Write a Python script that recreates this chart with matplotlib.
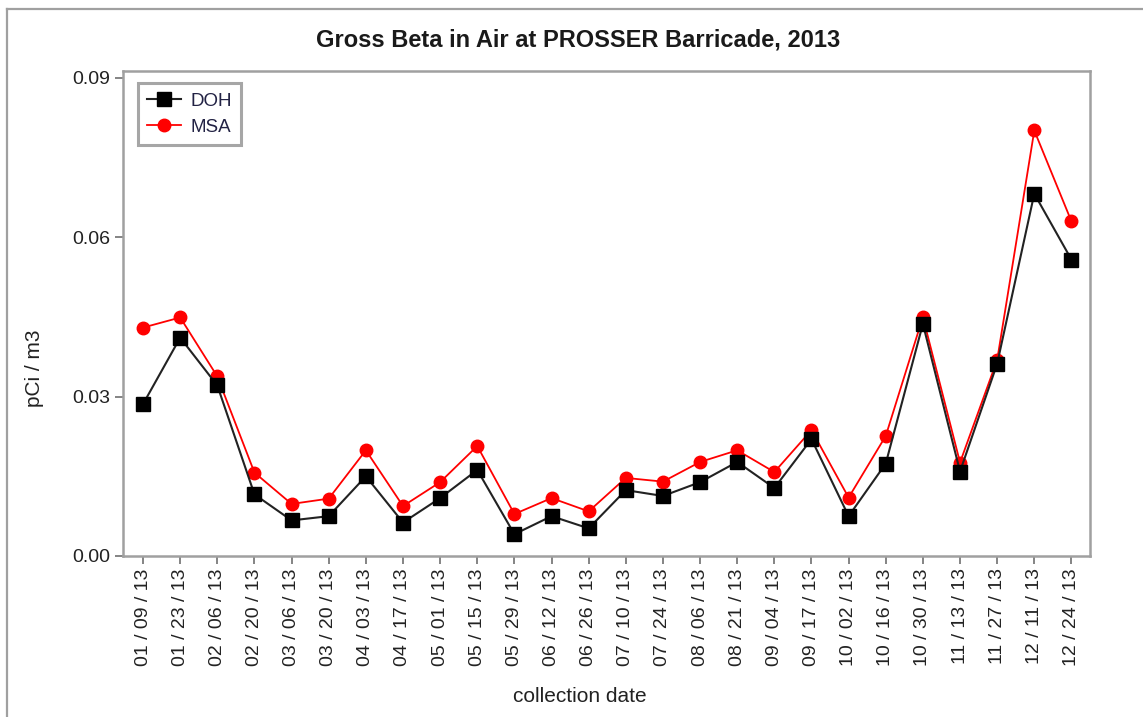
import matplotlib
matplotlib.use("Agg")
import matplotlib.pyplot as plt
from matplotlib.lines import Line2D

plt.rcParams['font.family'] = ['Liberation Sans', 'DejaVu Sans']

dates = ["01 / 09 / 13", "01 / 23 / 13", "02 / 06 / 13", "02 / 20 / 13", "03 / 06 / 13",
         "03 / 20 / 13", "04 / 03 / 13", "04 / 17 / 13", "05 / 01 / 13", "05 / 15 / 13",
         "05 / 29 / 13", "06 / 12 / 13", "06 / 26 / 13", "07 / 10 / 13", "07 / 24 / 13",
         "08 / 06 / 13", "08 / 21 / 13", "09 / 04 / 13", "09 / 17 / 13", "10 / 02 / 13",
         "10 / 16 / 13", "10 / 30 / 13", "11 / 13 / 13", "11 / 27 / 13", "12 / 11 / 13",
         "12 / 24 / 13"]

doh = [0.0286, 0.0411, 0.0321, 0.0116, 0.0067, 0.0075, 0.0150, 0.0063, 0.0109, 0.0162,
       0.0041, 0.0075, 0.0052, 0.0124, 0.0113, 0.0139, 0.0177, 0.0128, 0.0220, 0.0075,
       0.0174, 0.0437, 0.0159, 0.0362, 0.0682, 0.0558]

msa = [0.0430, 0.0449, 0.0338, 0.0157, 0.0098, 0.0108, 0.0199, 0.0094, 0.0139, 0.0207,
       0.0079, 0.0109, 0.0084, 0.0147, 0.0140, 0.0177, 0.0199, 0.0158, 0.0237, 0.0110,
       0.0226, 0.0450, 0.0176, 0.0369, 0.0801, 0.0630]

yticks = [0.00, 0.03, 0.06, 0.09]
ytick_labels = ["0.00", "0.03", "0.06", "0.09"]

W, H = 1143, 717
fig = plt.figure(figsize=(W / 100, H / 100), dpi=100)
fig.patch.set_facecolor('white')

# outer frame
fig.add_artist(Line2D([7 / W, 7 / W], [0, 1 - 9 / H], transform=fig.transFigure,
                      color='#a0a0a0', lw=1.6))
fig.add_artist(Line2D([7 / W, 1], [1 - 9 / H, 1 - 9 / H], transform=fig.transFigure,
                      color='#a0a0a0', lw=1.6))

left, right, top, bottom = 123, 1090, 71, 556
ax = fig.add_axes([left / W, 1 - bottom / H, (right - left) / W, (bottom - top) / H])

x = list(range(len(dates)))
ax.plot(x, doh, color='#222222', lw=1.5, marker='s', markersize=9.5,
        markerfacecolor='black', markeredgecolor='black', label='DOH', zorder=3)
ax.plot(x, msa, color='#ff0000', lw=1.3, marker='o', markersize=9,
        markerfacecolor='#ff0000', markeredgecolor='#ff0000', label='MSA', zorder=2)

ax.set_xlim(-0.54, 25.5)
ax.set_ylim(0, 0.0913)
ax.set_yticks(yticks)
ax.set_yticklabels(ytick_labels)
ax.set_xticks(x)
ax.set_xticklabels(dates, rotation=90)

for s in ax.spines.values():
    s.set_color('#a0a0a0')
    s.set_linewidth(1.8)

ax.tick_params(axis='both', colors='#707070', length=6, width=1.2, direction='out',
               labelsize=14, labelcolor='#222222')
ax.tick_params(axis='y', pad=3)
ax.tick_params(axis='x', pad=3)

fig.text(578 / W, 1 - 40 / H, "Gross Beta in Air at PROSSER Barricade, 2013",
         ha='center', va='center', fontsize=17, fontweight='bold', color='#1a1a1a')
fig.text(580 / W, 1 - 697 / H, "collection date", ha='center', va='center',
         fontsize=15, color='#222222')
fig.text(35 / W, 1 - 368 / H, "pCi / m3", ha='center', va='center', rotation=90,
         fontsize=15, color='#222222')

leg = ax.legend(loc='upper left', bbox_to_anchor=(15 / (right - left), 1 - 12 / (bottom - top)),
                frameon=True, fancybox=False, fontsize=13.5, handlelength=1.8,
                borderpad=0.5, labelspacing=0.5, handletextpad=0.5, borderaxespad=0)
leg.get_frame().set_edgecolor('#909090')
leg.get_frame().set_linewidth(2.2)
for t in leg.get_texts():
    t.set_color('#222244')

fig.savefig("out.png", dpi=100)
